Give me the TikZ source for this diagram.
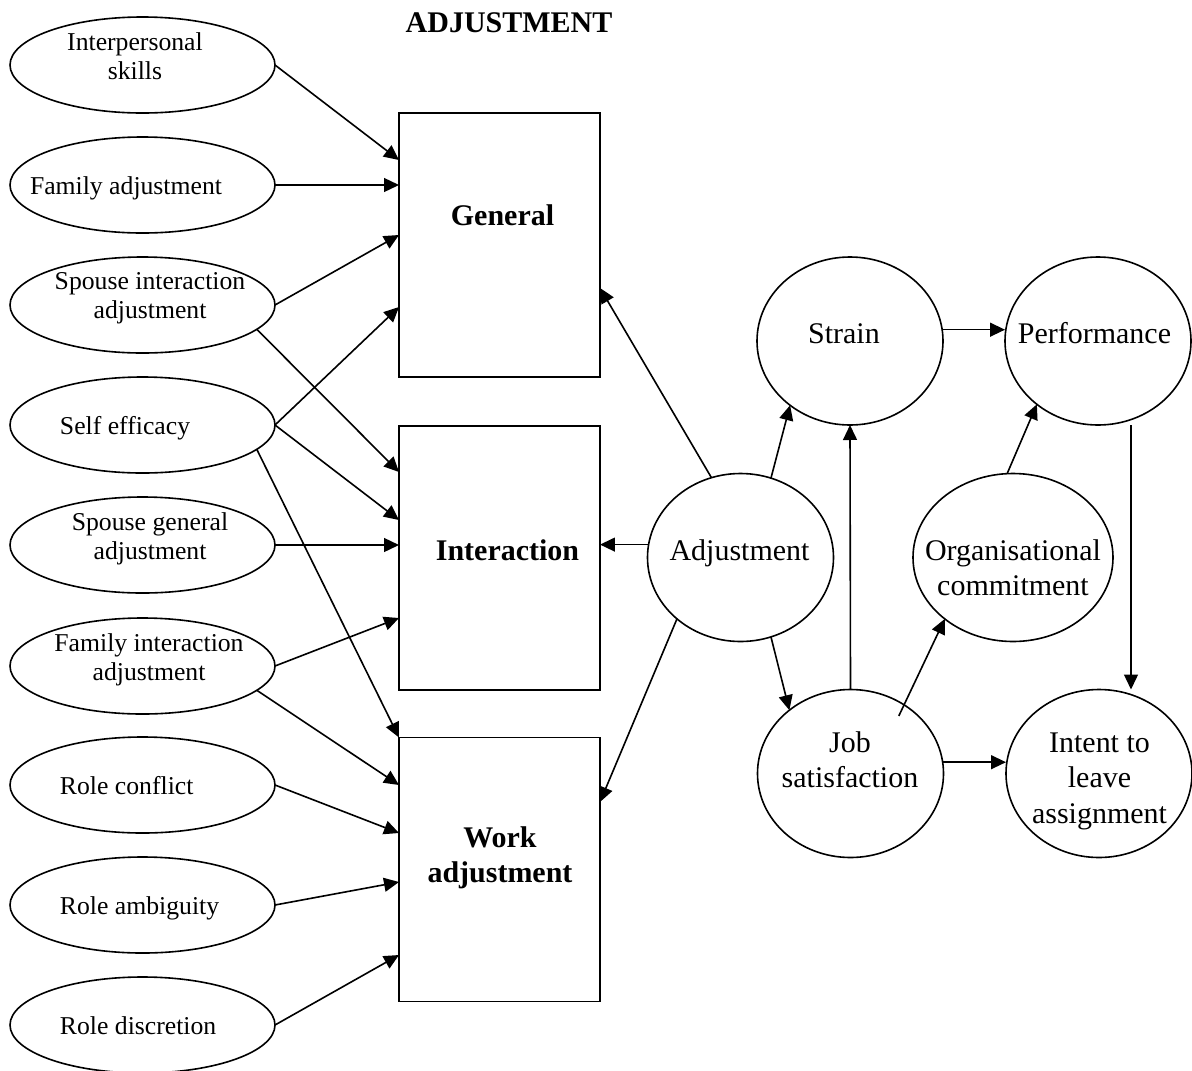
\documentclass[tikz,border=0pt]{standalone}
\usepackage{fontspec}
\setmainfont{Liberation Serif}
\usetikzlibrary{shapes.geometric,arrows.meta,calc}
% centred lines whose baseline is the first line's baseline
\newcommand\stacked[1]{\begin{tabular}[t]{@{}c@{}}#1\end{tabular}}

\begin{document}
\begin{tikzpicture}[x=0.467pt,y=-0.467pt,
  line width=0.75pt,
  every node/.style={inner sep=0pt,outer sep=0pt},
  oval/.style={draw,ellipse,minimum width=265*0.467pt,minimum height=96*0.467pt},
  bubble/.style={draw,ellipse,minimum width=186*0.467pt,minimum height=168*0.467pt},
  panel/.style={draw,rectangle,minimum width=201*0.467pt,minimum height=264*0.467pt},
  small/.style={font=\fontsize{12}{14}\selectfont,anchor=base},
  large/.style={font=\fontsize{14}{16.6}\selectfont,anchor=base},
  heading/.style={font=\fontsize{14}{16.8}\selectfont\bfseries,anchor=base},
  link/.style={-{Triangle[length=7pt,width=6.5pt]}}
]
\path[use as bounding box,fill=white] (0,0) rectangle (1192,1070);

% antecedents
\node[oval] (e1) at (142.5,65) {};
\node[oval] (e2) at (142.5,185) {};
\node[oval] (e3) at (142.5,305) {};
\node[oval] (e4) at (142.5,425) {};
\node[oval] (e5) at (142.5,545) {};
\node[oval] (e6) at (142.5,666) {};
\node[oval] (e7) at (142.5,785) {};
\node[oval] (e8) at (142.5,905) {};
\node[oval] (e9) at (142.5,1025) {};

\node[small] (t1) at (135,50) {\stacked{Interpersonal\\skills}};
\node[small,anchor=base west] (t2) at (30,194) {Family adjustment};
\node[small] (t3) at (150,289) {\stacked{Spouse interaction\\adjustment}};
\node[small,anchor=base west] (t4) at (60,434) {Self efficacy};
\node[small] (t5) at (150,530) {\stacked{Spouse general\\adjustment}};
\node[small] (t6) at (149,651) {\stacked{Family interaction\\adjustment}};
\node[small,anchor=base west] (t7) at (60,794) {Role conflict};
\node[small,anchor=base west] (t8) at (60,914) {Role ambiguity};
\node[small,anchor=base west] (t9) at (60,1034) {Role discretion};

% adjustment facets
\node[heading] (title) at (509,32) {ADJUSTMENT};
\node[panel] (gen) at (499.5,245) {};
\node[panel] (int) at (499.5,558) {};
\node[panel] (wrk) at (499.5,869.5) {};
\node[heading] (tgen) at (502.5,225) {General};
\node[heading] (tint) at (507.5,560) {Interaction};
\node[heading] (twrk) at (500,847) {\stacked{Work\\adjustment}};

% outcomes
\node[bubble] (strain) at (850,341) {};
\node[bubble] (perf) at (1098,341) {};
\node[bubble] (adj) at (740.5,557.5) {};
\node[bubble,minimum width=200*0.467pt] (org) at (1013,557.5) {};
\node[bubble] (job) at (850.5,773.5) {};
\node[bubble] (intent) at (1099,773.5) {};

\node[large] (tstrain) at (844,343) {Strain};
\node[large] (tperf) at (1094.5,343) {Performance};
\node[large] (tadj) at (739.5,560) {Adjustment};
\node[large] (torg) at (1013,560) {\stacked{Organisational\\commitment}};
\node[large] (tjob) at (850,752) {\stacked{Job\\satisfaction}};
\node[large] (tintent) at (1099.5,752) {\stacked{Intent to\\leave\\assignment}};

% antecedents to facets
\draw[link] (e1.east) -- ($(gen.west)+(0,-85)$);
\draw[link] (e2.east) -- ($(gen.west)+(0,-60)$);
\draw[link] (e3.east) -- ($(gen.west)+(0,-10)$);
\draw[link] (e3.-12) -- ($(int.west)+(0,-86)$);
\draw[link] (e4.east) -- ($(gen.west)+(0,62)$);
\draw[link] (e4.east) -- ($(int.west)+(0,-38)$);
\draw[link] (e4.-12) -- (wrk.north west);
\draw[link] (e5.east) -- ($(int.west)+(0,-13)$);
\draw[link] (e6.east) -- ($(int.west)+(0,60)$);
\draw[link] (e6.-12) -- ($(wrk.west)+(0,-84.5)$);
\draw[link] (e7.east) -- ($(wrk.west)+(0,-36.5)$);
\draw[link] (e8.east) -- ($(wrk.west)+(0,12.5)$);
\draw[link] (e9.east) -- ($(wrk.west)+(0,85.5)$);

% adjustment to facets and outcomes
\draw[link] (adj.110) -- ($(gen.east)+(0,43)$);
\draw[link] (adj.172) -- (adj.172 -| int.east);
\draw[link] (adj.224) -- ($(wrk.east)+(0,-67.5)$);
\draw[link] (adj.69) -- (strain.227);
\draw[link] (adj.-69) -- (job.134);
\draw[link] (strain.7) -- (strain.7 -| perf.west);
\draw[link] (job.7) -- (job.7 -| intent.west);
\draw[link] (job.north) -- (strain.south);
\draw[link] ($(job.center)!0.86!(job.50)$) -- (org.222);
\draw[link] (org.94) -- (perf.226);
\draw[link] ($(perf.south)+(33,0)$) -- ($(intent.north)+(32,0)$);
\end{tikzpicture}
\end{document}
